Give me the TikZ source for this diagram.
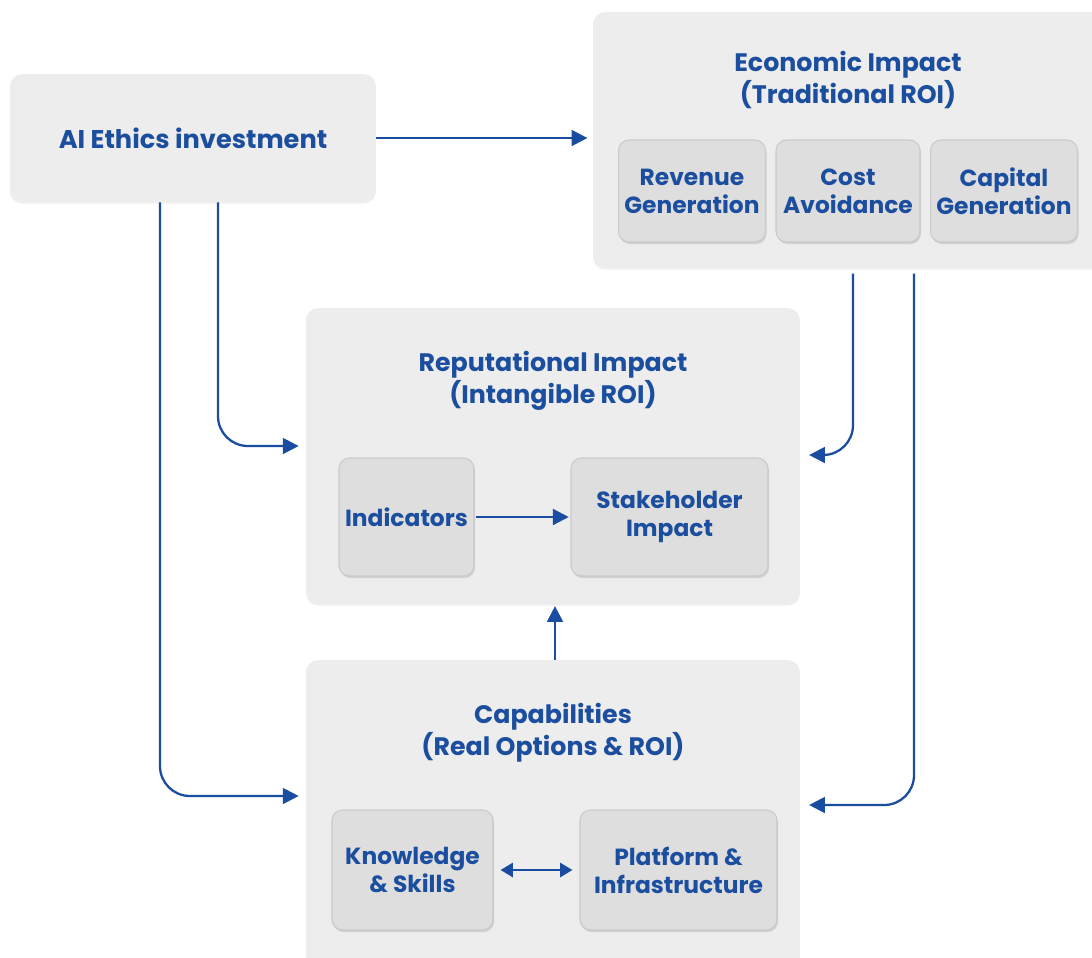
\documentclass[tikz,border=0pt]{standalone}
\usepackage{fontspec}
\setmainfont{Poppins}
\usetikzlibrary{arrows.meta,shadows}
\definecolor{inkblue}{HTML}{1B4E9E}
\definecolor{flowblue}{HTML}{1A4DA2}
\definecolor{panel}{HTML}{EDEDED}
\definecolor{tile}{HTML}{DEDEDE}
\definecolor{tileline}{HTML}{CACACA}

\begin{document}
\begin{tikzpicture}[x=0.02cm,y=-0.02cm,
  panelbox/.style={fill=panel,rounded corners=7pt,
    drop shadow={shadow xshift=0pt,shadow yshift=-1pt,opacity=0.12}},
  tilebox/.style={fill=tile,draw=tileline,line width=0.6pt,rounded corners=6pt,
    align=center,text=inkblue,font=\bfseries\fontsize{13.3}{16}\selectfont,
    drop shadow={shadow xshift=0.6pt,shadow yshift=-1.2pt,opacity=0.25}},
  heading/.style={align=center,text=inkblue,font=\bfseries\fontsize{14.4}{18}\selectfont},
  flow/.style={draw=flowblue,line width=1.3pt,-{Triangle[length=9pt,width=9pt]}},
  both/.style={draw=flowblue,line width=1.3pt,{Triangle[length=7pt,width=8pt]}-{Triangle[length=7pt,width=8pt]}}
]
\useasboundingbox (0,0) rectangle (1092,957);
\clip (0,0) rectangle (1092,957);

% investment
\node[panelbox,minimum width=7.32cm,minimum height=2.56cm,text=inkblue,
  font=\bfseries\fontsize{14.6}{18}\selectfont] (invest) at (193,138) {AI Ethics investment};

% economic impact
\node[panelbox,minimum width=10.22cm,minimum height=5.12cm] (econ) at (848.5,140) {};
\node[heading] (econT) at (848,80) {Economic Impact\\(Traditional ROI)};
\node[tilebox,minimum width=2.88cm,minimum height=2.04cm] (rev) at (692,191) {Revenue\\Generation};
\node[tilebox,minimum width=2.88cm,minimum height=2.04cm] (cost) at (848,191) {Cost\\Avoidance};
\node[tilebox,minimum width=2.88cm,minimum height=2.04cm] (capgen) at (1004,191) {Capital\\Generation};

% reputational impact
\node[panelbox,minimum width=9.88cm,minimum height=5.92cm] (rep) at (553,456) {};
\node[heading] (repT) at (553,381) {Reputational Impact\\(Intangible ROI)};
\node[tilebox,minimum width=2.7cm,minimum height=2.36cm] (ind) at (406.5,517) {Indicators};
\node[tilebox,minimum width=3.94cm,minimum height=2.36cm] (stake) at (669.5,517) {Stakeholder\\Impact};

% capabilities
\node[panelbox,minimum width=9.88cm,minimum height=6.2cm] (cap) at (553,815) {};
\node[heading] (capT) at (553,733) {Capabilities\\(Real Options \& ROI)};
\node[tilebox,minimum width=3.22cm,minimum height=2.4cm] (know) at (412.5,870) {Knowledge\\\& Skills};
\node[tilebox,minimum width=3.94cm,minimum height=2.4cm] (plat) at (678.5,870) {Platform \&\\Infrastructure};

% connectors
\path[flow] (invest.east) -- ([xshift=-3pt]invest.east -| econ.west);
\path[flow,rounded corners=17pt] (invest.south -| 218,0) |- ([xshift=-4pt]rep.west |- 0,446);
\path[flow,rounded corners=17pt] (invest.south -| 160,0) |- ([xshift=-4pt]cap.west |- 0,796);
\path[flow,rounded corners=17pt] ([yshift=-3pt]econ.south -| 853,0) |- ([xshift=5pt]rep.east |- 0,455);
\path[flow,rounded corners=17pt] ([yshift=-3pt]econ.south -| 914,0) |- ([xshift=5pt]cap.east |- 0,805);
\path[flow] (cap.north -| 555,0) -- ([yshift=-1pt]rep.south -| 555,0);
\path[flow,shorten <=1pt] (ind) -- ([xshift=-1pt]stake.west);
\path[both,shorten <=4pt,shorten >=4pt] (know) -- (plat);
\end{tikzpicture}
\end{document}
